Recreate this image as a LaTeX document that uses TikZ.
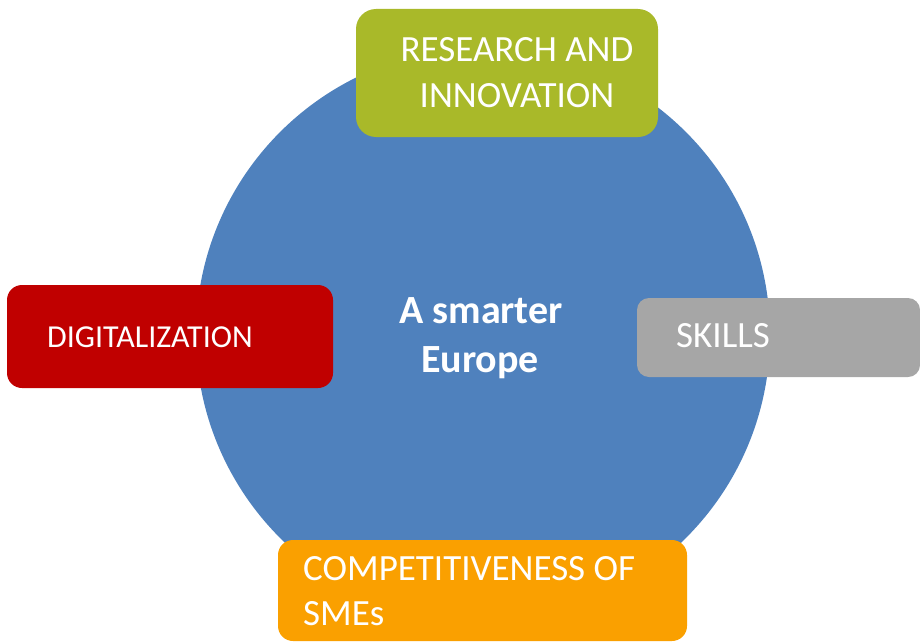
\documentclass[tikz,border=0pt]{standalone}
\usepackage{fontspec}
\setmainfont{Carlito}
\definecolor{cblue}{RGB}{79,129,189}
\definecolor{cgreen}{RGB}{169,185,41}
\definecolor{cred}{RGB}{192,0,0}
\definecolor{cgray}{RGB}{166,166,166}
\definecolor{corange}{RGB}{250,160,0}
\begin{document}
\begin{tikzpicture}[x=1pt,y=-1pt,
  lbl/.style={text=white, inner sep=0pt, font=\fontsize{37}{44}\selectfont},
  hublbl/.style={text=white, inner sep=0pt, font=\fontsize{40}{48}\bfseries\selectfont},
]
\useasboundingbox (0,0) rectangle (920,642);
\fill[cblue] (483,335) circle[radius=287];
\node[circle, minimum size=574pt, inner sep=0pt] (hub) at (483,335) {};
% boxes
\fill[cgreen, rounded corners=20pt] (356,9) rectangle (658,137);
\coordinate (gbox) at (507,73);
\fill[cred, rounded corners=15pt] (7,285) rectangle (333,388);
\coordinate (rbox) at (170,336);
\fill[cgray, rounded corners=12pt] (637,298) rectangle (920,377);
\coordinate (sbox) at (778,337);
\fill[corange, rounded corners=15pt] (278,540) rectangle (687,641);
\coordinate (obox) at (482,591);
% texts
\node[lbl, anchor=base] (g1) at (517,61) {RESEARCH AND};
\node[lbl, anchor=base] (g2) at (517,107) {INNOVATION};
\node[lbl, anchor=base west, font=\fontsize{32}{38}\selectfont] (d1) at (47,347) {DIGITALIZATION};
\node[lbl, anchor=base west] (s1) at (676,347) {SKILLS};
\node[lbl, anchor=base west] (o1) at (303,580) {COMPETITIVENESS OF};
\node[lbl, anchor=base west] (o2) at (303,625) {SMEs};
\node[hublbl, anchor=base] (c1) at (481,323) {A smarter};
\node[hublbl, anchor=base] (c2) at (480,372) {Europe};
\end{tikzpicture}
\end{document}
